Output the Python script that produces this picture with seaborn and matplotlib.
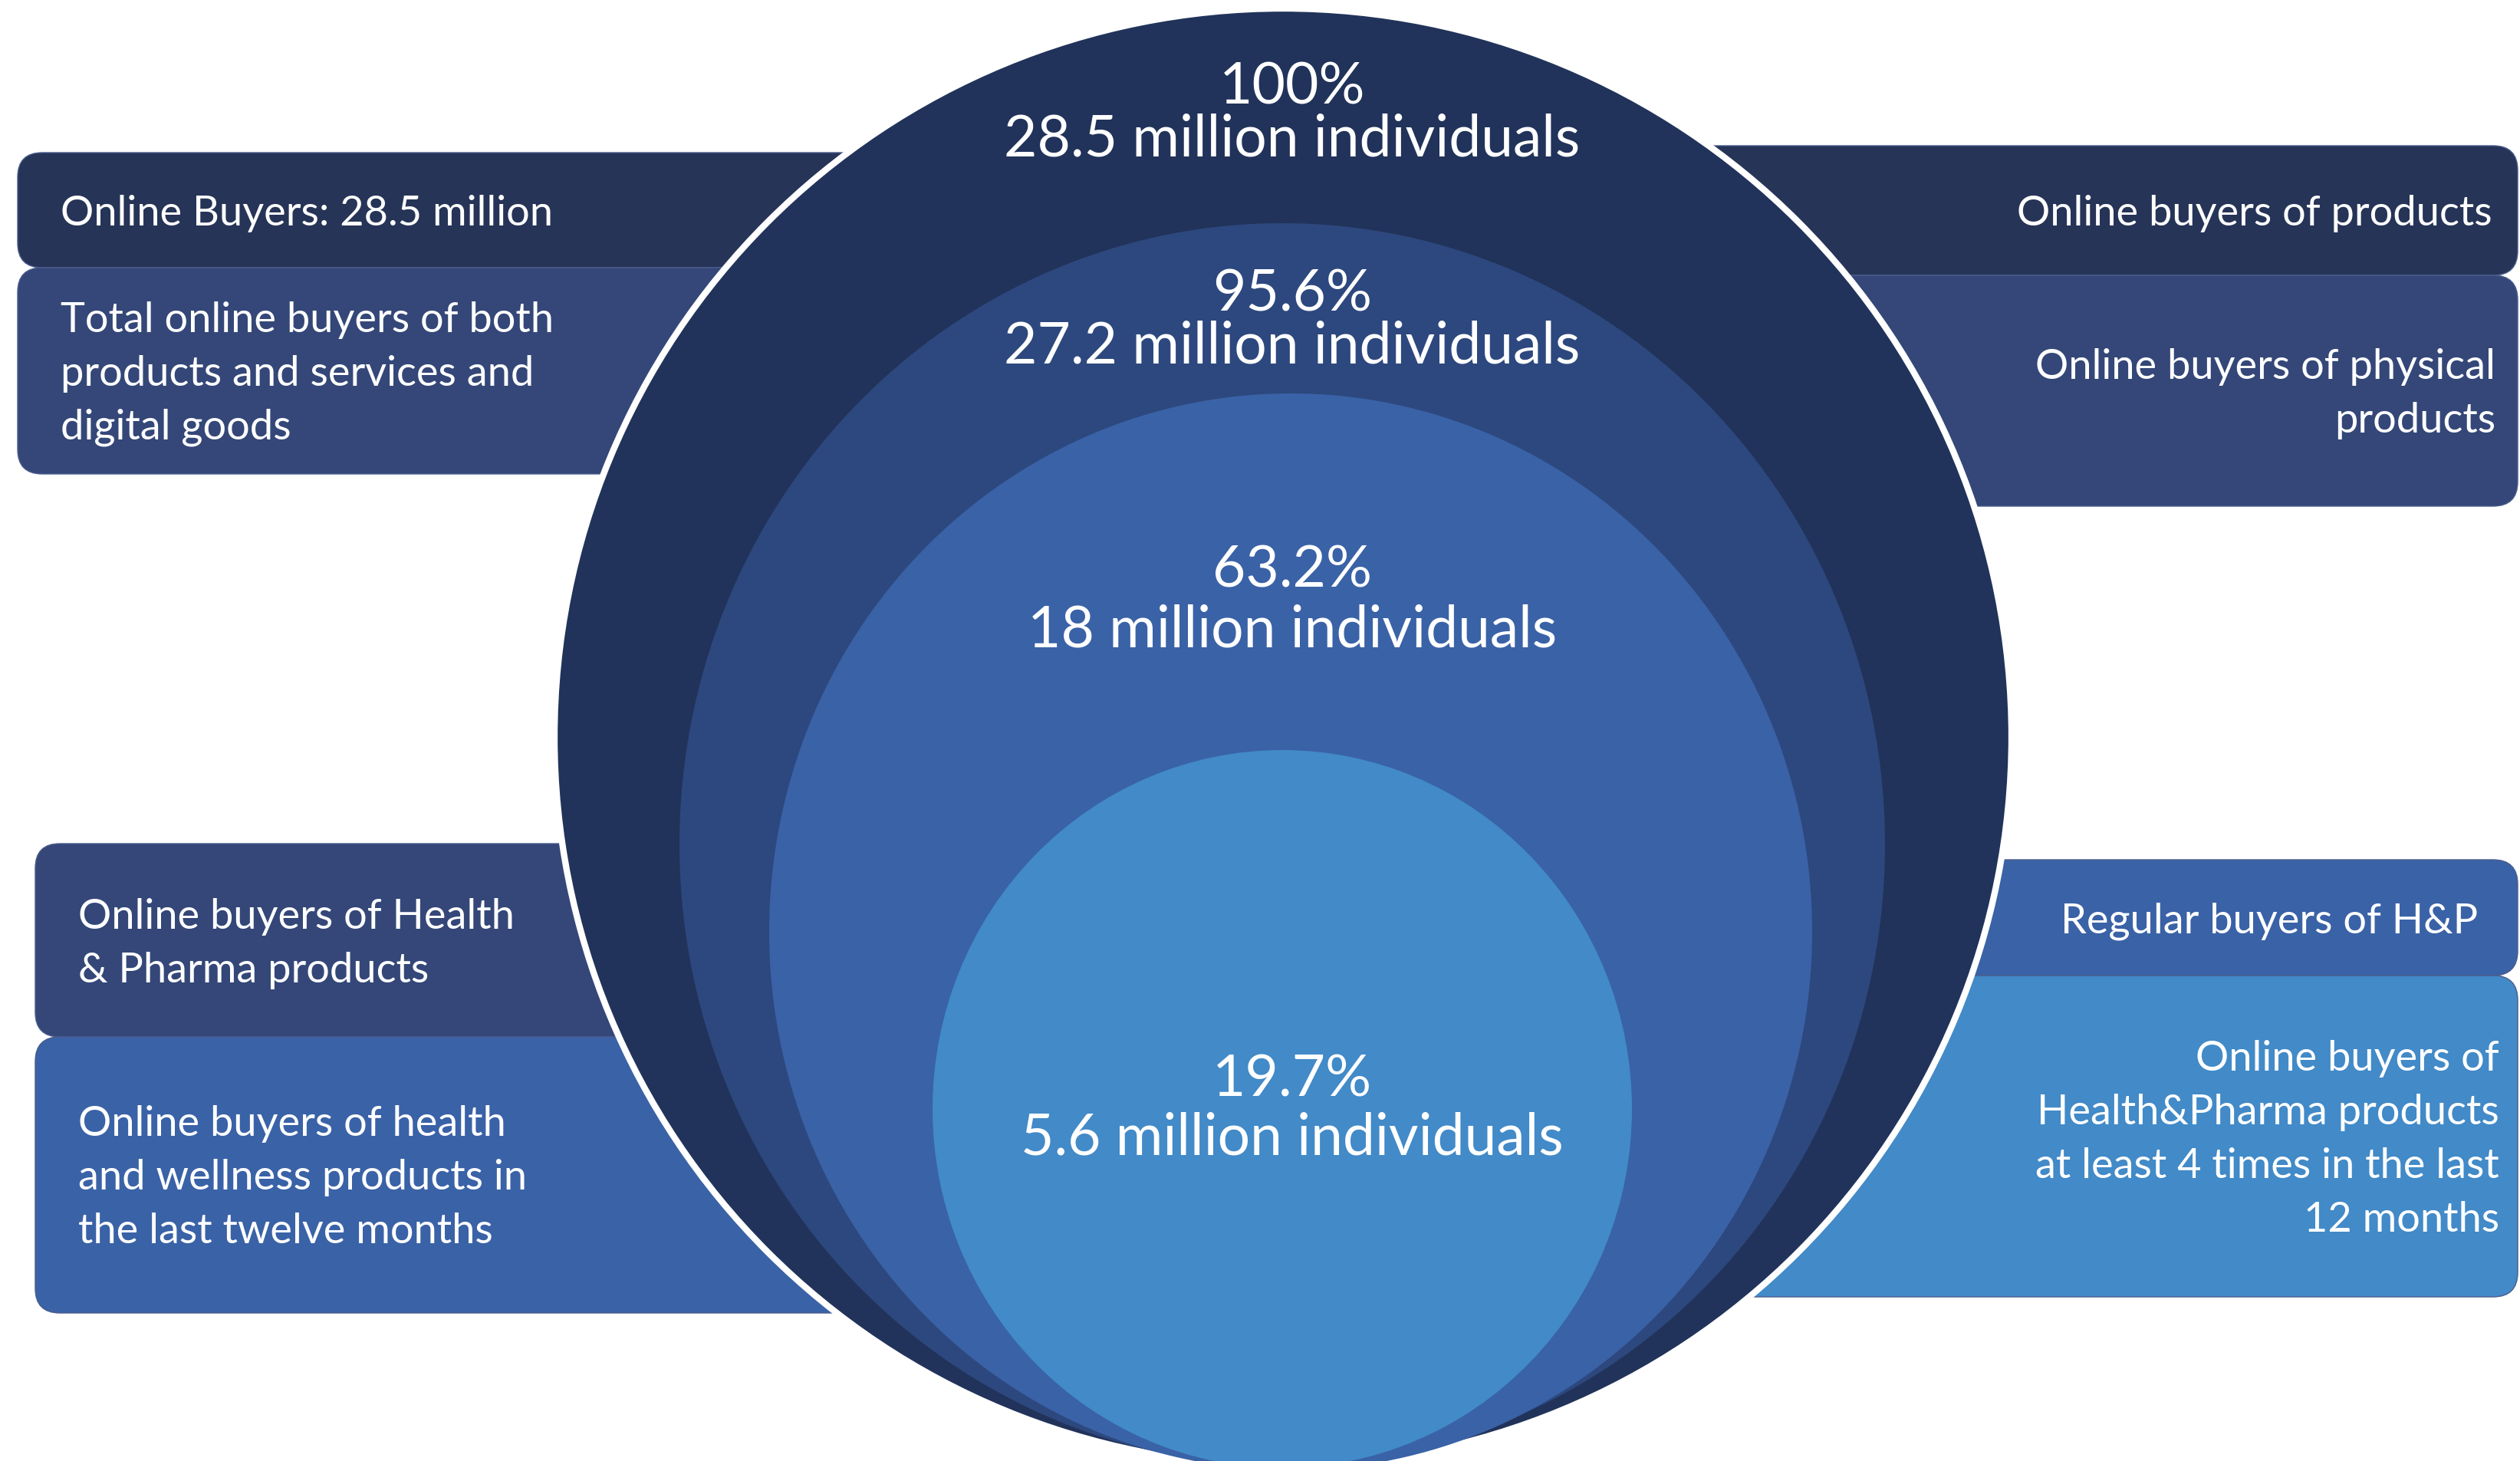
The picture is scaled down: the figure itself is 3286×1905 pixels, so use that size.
import seaborn as sns
import matplotlib.pyplot as plt
from matplotlib.patches import Ellipse, FancyBboxPatch

# Nested groups of online buyers (share of total, millions of people)
shares = [100, 95.6, 63.2, 19.7]
millions = [28.5, 27.2, 18, 5.6]

left_labels = [
    "Online Buyers: 28.5 million",
    "Total online buyers of both\nproducts and services and\ndigital goods",
    "Online buyers of Health\n& Pharma products",
    "Online buyers of health\nand wellness products in\nthe last twelve months",
]
right_labels = [
    "Online buyers of products",
    "Online buyers of physical\nproducts",
    "Regular buyers of H&P",
    "Online buyers of\nHealth&Pharma products\nat least 4 times in the last\n12 months",
]

circle_colors = ["#21335A", "#2D487E", "#3A62A7", "#428AC8"]
left_colors = ["#263457", "#344778", "#344778", "#3A62A7"]
right_colors = ["#263457", "#344778", "#3A62A7", "#428AC8"]

sns.set_theme(style="white")
plt.rcParams['font.family'] = ['Lato', 'DejaVu Sans']

W, H = 3287, 1905
fig = plt.figure(figsize=(W / 100, H / 100), dpi=100)
ax = fig.add_axes([0, 0, 1, 1])
ax.set_xlim(0, W)
ax.set_ylim(H, 0)
ax.axis('off')

# layout (pixels)
circ_center = [(1673, 961), (1672, 1101), (1683, 1215), (1672, 1446)]
circ_size = [(950, 950), (786, 810), (680, 702), (456, 468)]
left_boxes = [(23, 199, 349), (23, 349, 618), (46, 1100, 1352), (46, 1352, 1712)]
right_boxes = [(190, 359), (359, 660), (1121, 1272), (1272, 1691)]
left_text_x = [79, 79, 102, 102]
left_base = [294, 433, 1211, 1481]
right_text_x = [3250, 3254, 3231, 3259]
right_base = [294, 494, 1216, 1396]
line_gap = 70
box_fs = 39

for (x0, y0, y1), col in zip(left_boxes, left_colors):
    ax.add_patch(FancyBboxPatch((x0, y0), 1500 - x0, y1 - y0,
                                boxstyle="round,pad=0,rounding_size=32",
                                fc=col, ec="#4A5C8C", lw=1, zorder=1))
for (y0, y1), col in zip(right_boxes, right_colors):
    ax.add_patch(FancyBboxPatch((1900, y0), W - 1900 - 4, y1 - y0,
                                boxstyle="round,pad=0,rounding_size=32",
                                fc=col, ec="#4A5C8C", lw=1, zorder=1))

for i, (c, (rx, ry), col) in enumerate(zip(circ_center, circ_size, circle_colors)):
    ax.add_patch(Ellipse(c, 2 * rx, 2 * ry, fc=col, ec="white" if i == 0 else col,
                         lw=6 if i == 0 else 0, zorder=2 + i))

for lab, x, y in zip(left_labels, left_text_x, left_base):
    for k, line in enumerate(lab.split("\n")):
        ax.text(x, y + k * line_gap, line, color="white", fontsize=box_fs,
                ha="left", va="baseline", zorder=10)
for lab, x, y in zip(right_labels, right_text_x, right_base):
    for k, line in enumerate(lab.split("\n")):
        ax.text(x, y + k * line_gap, line, color="white", fontsize=box_fs,
                ha="right", va="baseline", zorder=10)

pct_base = [136, 406, 765, 1429]
num_base = [203, 473, 843, 1506]
for s, m, y1, y2 in zip(shares, millions, pct_base, num_base):
    ax.text(1685, y1, f"{s:g}%", color="white", fontsize=54,
            ha="center", va="baseline", zorder=10)
    ax.text(1685, y2, f"{m:g} million individuals", color="white", fontsize=54,
            ha="center", va="baseline", zorder=10)

fig.savefig("out.png", dpi=100)
